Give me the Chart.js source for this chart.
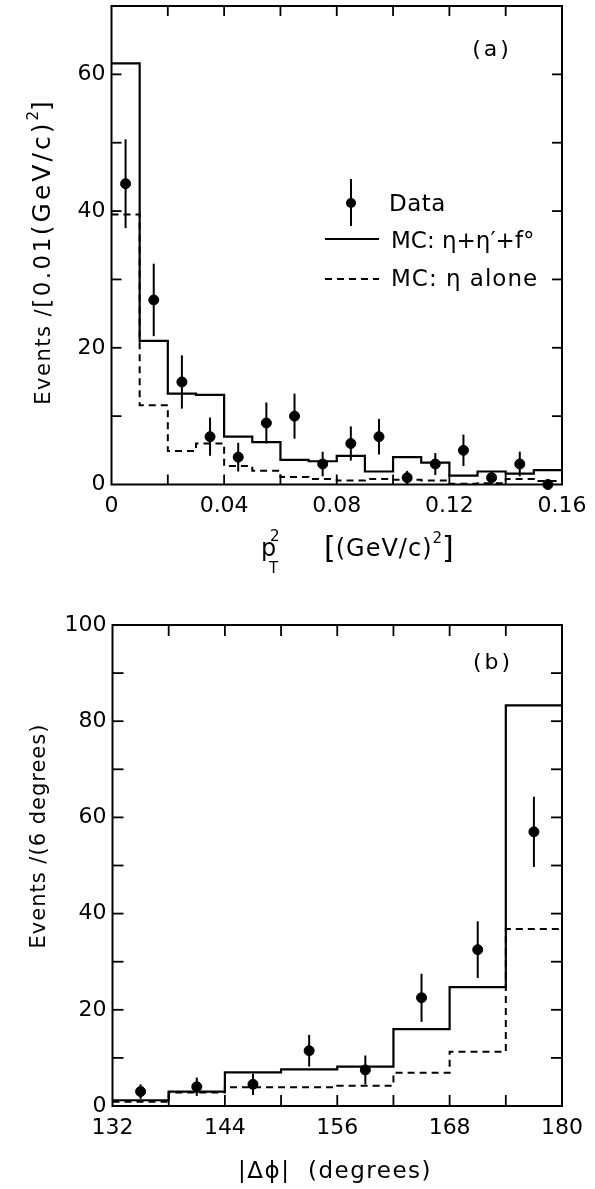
<!DOCTYPE html>
<html>
<head>
<meta charset="utf-8">
<script src="https://cdn.jsdelivr.net/npm/chart.js@4.4.1/dist/chart.umd.min.js"></script>
<style>
  html, body { margin: 0; padding: 0; background: #fff; }
  .panel { position: absolute; left: 0; }
</style>
</head>
<body>
<div class="panel" style="top:0"><canvas id="chartA" width="595" height="590"></canvas></div>
<div class="panel" style="top:590px"><canvas id="chartB" width="595" height="599"></canvas></div>
<script>
const FONT = "'DejaVu Sans', sans-serif";

// (a) pT^2 distribution, bins of 0.01 (GeV/c)^2
const ptEdges = [0, 0.01, 0.02, 0.03, 0.04, 0.05, 0.06, 0.07, 0.08, 0.09, 0.10, 0.11, 0.12, 0.13, 0.14, 0.15, 0.16];
const ptCenters = [0.005, 0.015, 0.025, 0.035, 0.045, 0.055, 0.065, 0.075, 0.085, 0.095, 0.105, 0.115, 0.125, 0.135, 0.145, 0.155];
const ptData = [44, 27, 15, 7, 4, 9, 10, 3, 6, 7, 1, 3, 5, 1, 3, 0];
const ptErr = [6.5, 5.3, 3.9, 2.8, 2.1, 3.0, 3.3, 1.8, 2.5, 2.6, 1.0, 1.6, 2.3, 1.0, 1.8, 0];
const ptMcAll = [61.6, 21.0, 13.3, 13.1, 7.0, 6.2, 3.6, 3.4, 4.2, 1.9, 4.0, 3.2, 1.3, 1.9, 1.6, 2.1];
const ptMcEta = [39.5, 11.6, 4.9, 6.0, 2.7, 2.0, 1.1, 0.8, 0.6, 0.8, 0.7, 0.6, 0.1, 0.2, 0.8, 0.5];

// (b) |delta phi| distribution, bins of 6 degrees
const dphiEdges = [132, 138, 144, 150, 156, 162, 168, 174, 180];
const dphiCenters = [135, 141, 147, 153, 159, 165, 171, 177];
const dphiData = [3, 4, 4.5, 11.5, 7.5, 22.5, 32.5, 57];
const dphiErr = [1.5, 1.9, 2.2, 3.3, 3.0, 5.0, 5.9, 7.3];
const dphiMcAll = [1.2, 3.0, 7.0, 7.6, 8.2, 16.0, 24.7, 83.3];
const dphiMcEta = [0.9, 2.8, 3.9, 3.9, 4.2, 6.9, 11.3, 36.8];

Chart.defaults.font.family = FONT;
Chart.defaults.color = '#000';

// histogram outline: one point per bin edge, value of the bin to its right
function steps(edges, vals) {
    return edges.map((x, i) => ({ x: x, y: vals[Math.min(i, vals.length - 1)] }));
}

// text made of runs [text, size, dy, spacing]
function runs(ctx, parts, x, y, align) {
    let w = 0;
    parts.forEach(p => {
        ctx.font = p[1] + 'px ' + FONT;
        ctx.letterSpacing = (p[3] || 0) + 'px';
        w += ctx.measureText(p[0]).width;
    });
    let cx = align === 'center' ? x - w / 2 : x;
    ctx.textAlign = 'left';
    parts.forEach(p => {
        ctx.font = p[1] + 'px ' + FONT;
        ctx.letterSpacing = (p[3] || 0) + 'px';
        ctx.fillText(p[0], cx, y + (p[2] || 0));
        cx += ctx.measureText(p[0]).width;
    });
    ctx.letterSpacing = '0px';
}

function seg(ctx, x1, y1, x2, y2) {
    ctx.beginPath();
    ctx.moveTo(x1, y1);
    ctx.lineTo(x2, y2);
    ctx.stroke();
}

const decor = {
    id: 'decor',
    afterDraw(chart, args, opts) {
        const { ctx, chartArea: a } = chart;
        const x = chart.scales.x, y = chart.scales.y;
        ctx.save();
        ctx.strokeStyle = '#000';
        ctx.fillStyle = '#000';

        // error bars on the data points
        chart.data.datasets.forEach(ds => {
            if (!ds.errors) return;
            ctx.lineWidth = 2;
            ds.data.forEach((p, i) => {
                const e = ds.errors[i];
                if (!e) return;
                const px = x.getPixelForValue(p.x);
                seg(ctx, px, y.getPixelForValue(p.y - e), px, y.getPixelForValue(p.y + e));
            });
        });

        // frame and inward ticks on all four sides
        ctx.lineWidth = 2;
        ctx.strokeRect(a.left, a.top, a.right - a.left, a.bottom - a.top);
        const L = opts.tickLen;
        ctx.lineWidth = 1.8;
        x.ticks.forEach(t => {
            const px = x.getPixelForValue(t.value);
            if (px <= a.left + 1 || px >= a.right - 1) return;
            seg(ctx, px, a.bottom, px, a.bottom - L);
            seg(ctx, px, a.top, px, a.top + L);
        });
        y.ticks.forEach(t => {
            const py = y.getPixelForValue(t.value);
            if (py <= a.top + 1 || py >= a.bottom - 1) return;
            seg(ctx, a.left, py, a.left + L, py);
            seg(ctx, a.right, py, a.right - L, py);
        });

        opts.extra(ctx, chart);
        ctx.restore();
    }
};

function makeChart(id, cfg) {
    return new Chart(document.getElementById(id), {
        data: {
            datasets: [
                { type: 'line', label: cfg.allLabel, data: steps(cfg.edges, cfg.mcAll), stepped: true,
                  borderColor: '#000', borderWidth: 2.2, pointRadius: 0, fill: false },
                { type: 'line', label: cfg.etaLabel, data: steps(cfg.edges, cfg.mcEta), stepped: true,
                  borderColor: '#000', borderWidth: 2, borderDash: [7, 5], pointRadius: 0, fill: false },
                { type: 'scatter', label: 'Data', data: cfg.centers.map((c, i) => ({ x: c, y: cfg.data[i] })),
                  errors: cfg.err, pointRadius: 5, pointHoverRadius: 5,
                  backgroundColor: '#000', borderColor: '#000', clip: false }
            ]
        },
        options: {
            responsive: false,
            animation: false,
            layout: { padding: cfg.padding },
            plugins: {
                legend: { display: false },
                tooltip: { enabled: false },
                decor: { tickLen: cfg.tickLen, extra: cfg.extra }
            },
            scales: {
                x: {
                    type: 'linear', min: cfg.xmin, max: cfg.xmax,
                    border: { display: false },
                    grid: { display: false, drawTicks: false },
                    ticks: { stepSize: cfg.xstep, padding: 9, autoSkip: false, maxRotation: 0,
                             font: { size: 22 }, callback: cfg.xlabel },
                    afterFit(s) { s.height = cfg.xh; s.paddingLeft = 0; s.paddingRight = 0; s.paddingTop = 0; s.paddingBottom = 0; }
                },
                y: {
                    type: 'linear', min: 0, max: cfg.ymax,
                    border: { display: false },
                    grid: { display: false, drawTicks: false },
                    ticks: { stepSize: 10, padding: 6, autoSkip: false, font: { size: 22 },
                             callback: v => (v % 20 === 0 && v < cfg.ymax) || v === 100 ? String(v) : '' },
                    afterFit(s) { s.width = cfg.yw; s.paddingLeft = 0; s.paddingRight = 0; s.paddingTop = 0; s.paddingBottom = 0; }
                }
            }
        },
        plugins: [decor]
    });
}

makeChart('chartA', {
    edges: ptEdges, centers: ptCenters, data: ptData, err: ptErr, mcAll: ptMcAll, mcEta: ptMcEta,
    allLabel: 'MC: η+η′+f°', etaLabel: 'MC: η alone',
    xmin: 0, xmax: 0.16, xstep: 0.02, ymax: 70, tickLen: 10,
    xlabel: v => { const k = Math.round(v * 100); return k % 4 !== 0 ? '' : (k === 0 ? '0' : (k / 100).toFixed(2)); },
    padding: { top: 4, right: 33, left: 0, bottom: 0 }, yw: 111.5, xh: 105.5,
    extra(ctx, chart) {
        ctx.textBaseline = 'middle';
        runs(ctx, [['(a)', 22, 0, 3]], 492, 50, 'center');

        // legend
        const dot = chart.data.datasets[2];
        ctx.lineWidth = 2;
        seg(ctx, 351, 179, 351, 226);
        ctx.beginPath(); ctx.arc(351, 203, dot.pointRadius, 0, Math.PI * 2); ctx.fill();
        runs(ctx, [['Data', 23, 0, 0.5]], 389, 205, 'left');
        ctx.lineWidth = 2.2;
        seg(ctx, 325, 239, 379, 239);
        runs(ctx, [['MC: η+η′+f°', 23, 0, 0]], 391, 242, 'left');
        ctx.lineWidth = 2;
        ctx.setLineDash([7, 5]);
        seg(ctx, 325, 279, 379, 279);
        ctx.setLineDash([]);
        runs(ctx, [['MC: η alone', 23, 0, 1]], 391, 280, 'left');

        // y title
        ctx.save();
        ctx.translate(42, 253);
        ctx.rotate(-Math.PI / 2);
        ctx.textBaseline = 'alphabetic';
        runs(ctx, [['Events /', 21, 8, 1.5], ['[0.01', 23, 8, 2.5], ['(GeV/c)', 25, 8, 3], ['2', 15, -4, 0], [']', 25, 8, 0]], 0, 0, 'center');
        ctx.restore();

        // x title
        ctx.textBaseline = 'alphabetic';
        runs(ctx, [['p', 24, 0, 0]], 261, 556, 'left');
        runs(ctx, [['2', 15, 0, 0]], 270, 541, 'left');
        runs(ctx, [['T', 15, 0, 0]], 269, 573, 'left');
        runs(ctx, [['[', 30, 0, 0], ['(GeV/c)', 24, -2, 1], ['2', 15, -15, 0], [']', 30, 0, 0]], 324, 558, 'left');
    }
});

makeChart('chartB', {
    edges: dphiEdges, centers: dphiCenters, data: dphiData, err: dphiErr, mcAll: dphiMcAll, mcEta: dphiMcEta,
    allLabel: 'MC: η+η′+f°', etaLabel: 'MC: η alone',
    xmin: 132, xmax: 180, xstep: 6, ymax: 100, tickLen: 11,
    xlabel: v => (v - 132) % 12 === 0 ? String(v) : '',
    padding: { top: 35, right: 33, left: 0, bottom: 0 }, yw: 112.5, xh: 83,
    extra(ctx) {
        ctx.textBaseline = 'middle';
        runs(ctx, [['(b)', 22, 0, 3]], 493, 73, 'center');

        ctx.save();
        ctx.translate(40, 246);
        ctx.rotate(-Math.PI / 2);
        runs(ctx, [['Events /(6 degrees)', 21, 0, 1]], 0, 0, 'center');
        ctx.restore();

        runs(ctx, [['|Δϕ|  (degrees)', 23, 0, 1.5]], 335, 582, 'center');
    }
});
</script>
</body>
</html>
